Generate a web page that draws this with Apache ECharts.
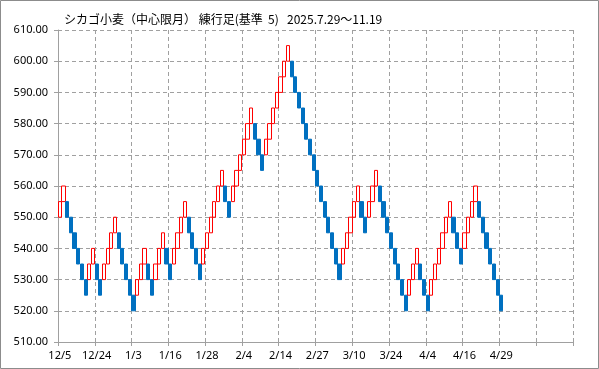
<!DOCTYPE html>
<html>
<head>
<meta charset="utf-8">
<script src="https://cdn.jsdelivr.net/npm/echarts@6/dist/echarts.min.js"></script>
<style>
html,body{margin:0;padding:0;background:#fff;}
#chart{width:599px;height:369px;}
</style>
</head>
<body>
<div id="chart"></div>
<script>
// ---- data ----
const titleMain = 'シカゴ小麦（中心限月） 練行足(基準  5)';
const titleDate = '2025.7.29～11.19';
const tickLabels = ['12/5','12/24','1/3','1/16','1/28','2/4','2/14','2/27','3/10','3/24','4/4','4/16','4/29'];
const labelEvery = 10;
const slotCount = 140;
const brickOpen = [
  550,555,555,550,545,540,535,530,530,535,
  535,530,530,535,540,545,545,540,535,530,
  525,525,530,535,535,530,530,535,540,540,
  535,535,540,545,550,550,545,540,535,535,
  540,545,550,555,560,560,555,555,560,565,
  570,575,580,580,575,570,570,575,580,585,
  590,595,600,600,595,590,585,580,575,570,
  565,560,555,550,545,540,535,535,540,545,
  550,555,555,550,550,555,560,560,555,550,
  545,540,535,530,525,525,530,535,535,530,
  525,525,530,535,540,545,550,550,545,540,
  540,545,550,555,555,550,545,540,535,530,
  525
];
const brickClose = [
  555,560,550,545,540,535,530,525,535,540,
  530,525,535,540,545,550,540,535,530,525,
  520,530,535,540,530,525,535,540,545,535,
  530,540,545,550,555,545,540,535,530,540,
  545,550,555,560,565,555,550,560,565,570,
  575,580,585,575,570,565,575,580,585,590,
  595,600,605,595,590,585,580,575,570,565,
  560,555,550,545,540,535,530,540,545,550,
  555,560,550,545,555,560,565,555,550,545,
  540,535,530,525,520,530,535,540,530,525,
  520,530,535,540,545,550,555,545,540,535,
  545,550,555,560,550,545,540,535,530,525,
  520
];
const yMin = 510, yMax = 610, yStep = 10;

// ---- build options ----
const categories = [];
for (let i = 0; i < slotCount; i++) categories.push(String(i));
const candleData = brickOpen.map((o, i) => {
  const c = brickClose[i];
  return [o, c, Math.min(o, c), Math.max(o, c)];
});
const every = (idx) => idx % labelEvery === 0;
const gridColor = '#a0a0a0';

const chart = echarts.init(document.getElementById('chart'), null, {renderer: 'canvas'});
chart.setOption({
  animation: false,
  backgroundColor: '#ffffff',
  title: [{
    text: titleMain,
    left: 59,
    top: 8,
    textStyle: {fontSize: 12, fontWeight: 'normal', color: '#000', fontFamily: 'Noto Sans CJK JP'}
  }, {
    text: titleDate,
    left: 282,
    top: 8,
    textStyle: {fontSize: 12, fontWeight: 'normal', color: '#000', fontFamily: 'Noto Sans CJK JP'}
  }],
  graphic: [{
    type: 'rect',
    shape: {x: 0.5, y: 0.5, width: 598, height: 368},
    style: {fill: 'none', stroke: '#8c8c8c', lineWidth: 1},
    silent: true,
    z: 100
  }],
  grid: {left: 58, right: 26, top: 30, bottom: 27, containLabel: false},
  xAxis: {
    type: 'category',
    data: categories,
    boundaryGap: true,
    axisLine: {show: true, lineStyle: {color: gridColor, width: 1}},
    axisTick: {show: true, interval: (i) => every(i), length: 4, lineStyle: {color: gridColor}},
    axisLabel: {
      interval: (i) => every(i),
      formatter: (v, i) => (i % labelEvery === 0 && tickLabels[i / labelEvery]) ? tickLabels[i / labelEvery] : '',
      margin: 8,
      fontSize: 11,
      color: '#000',
      fontFamily: 'Noto Sans'
    },
    splitLine: {show: true, interval: (i) => every(i), lineStyle: {color: gridColor, type: [4, 3], width: 1}}
  },
  yAxis: {
    type: 'value',
    min: yMin,
    max: yMax,
    interval: yStep,
    axisLine: {show: true, lineStyle: {color: gridColor, width: 1}},
    axisTick: {show: true, length: 4, lineStyle: {color: gridColor}},
    axisLabel: {
      formatter: (v) => v.toFixed(2),
      margin: 10,
      fontSize: 11,
      color: '#000',
      fontFamily: 'Noto Sans'
    },
    splitLine: {show: true, lineStyle: {color: gridColor, type: [4, 3], width: 1}}
  },
  series: [{
    type: 'candlestick',
    data: candleData,
    barWidth: '100%',
    itemStyle: {
      color: 'rgba(255,255,255,0)',
      borderColor: '#ff0000',
      color0: '#0070c0',
      borderColor0: '#0070c0',
      borderWidth: 1
    },
    emphasis: {disabled: true}
  }]
});
</script>
</body>
</html>
